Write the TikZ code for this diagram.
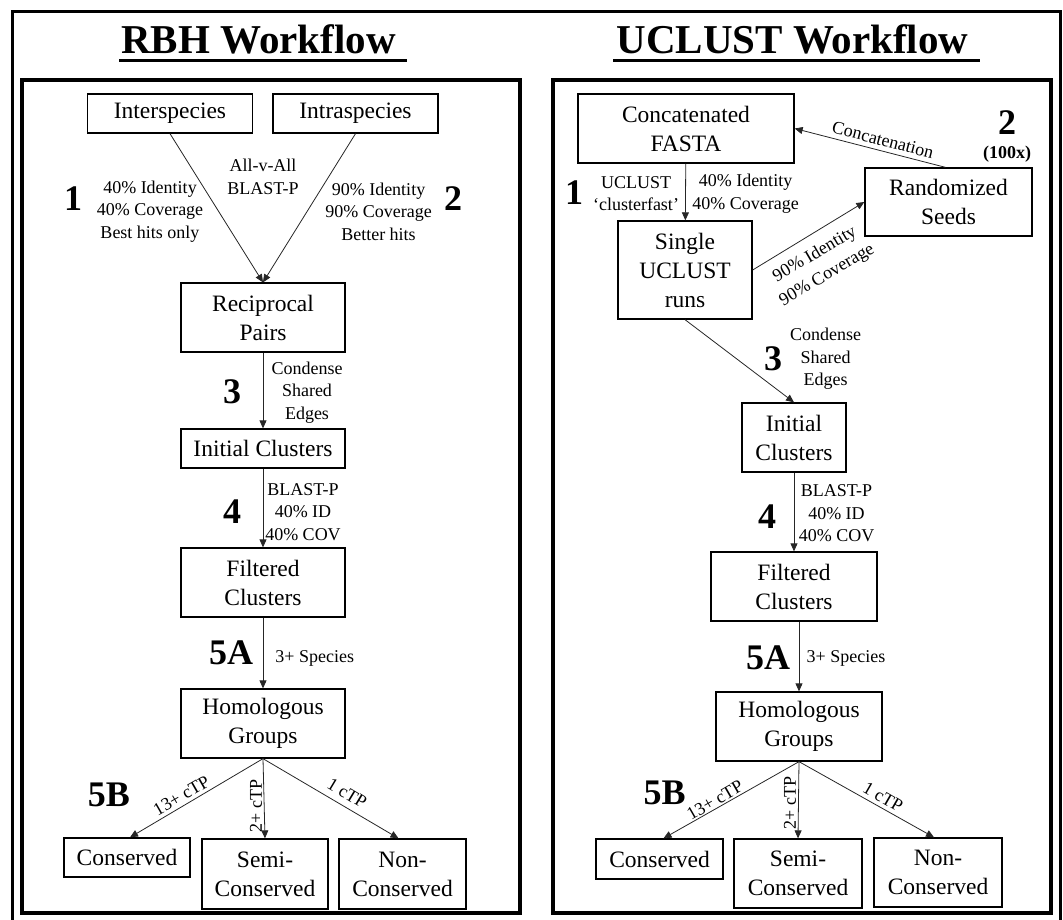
\documentclass[tikz,border=0pt]{standalone}
\usepackage{fontspec}
\setmainfont{Liberation Serif}
\usetikzlibrary{arrows.meta}
\begin{document}
\begin{tikzpicture}[
        x=1pt, y=-1pt,
        >={Triangle[length=8pt,width=7pt]},
        box/.style={draw, line width=1.3pt, inner sep=0pt, align=center,
            font=\fontsize{23.5}{29}\selectfont},
        lbl/.style={inner sep=0pt, align=center, font=\fontsize{18}{22.5}\selectfont},
        stepnum/.style={inner sep=0pt, font=\fontsize{36}{40}\selectfont\bfseries},
        title/.style={inner sep=0pt, anchor=base, font=\fontsize{41}{45}\selectfont\bfseries},
        flow/.style={->, line width=0.8pt, draw=black!85},
        panel/.style={line width=3.5pt},
        ]
        \useasboundingbox (0,0) rectangle (1063,919);
        \draw[line width=3pt] (12,925) -- (12,11) -- (1060,11) -- (1060,925);
        \draw[panel] (22,80) rectangle (520,913);
        \draw[panel] (553,80) rectangle (1051,913);
        \node[title] (titleL) at (258.5,53) {RBH Workflow};
        \node[title] (titleR) at (792.5,53) {UCLUST Workflow};
        \draw[line width=3pt] ([xshift=-2pt,yshift=-7pt]titleL.base west) -- ([xshift=11pt,yshift=-7pt]titleL.base east);
        \draw[line width=3pt] ([xshift=-3pt,yshift=-7pt]titleR.base west) -- ([xshift=11pt,yshift=-7pt]titleR.base east);
        % RBH boxes
        \node[box, minimum width=165pt, minimum height=39pt] (inter) at (170,113.5) {Interspecies};
        \node[box, minimum width=165pt, minimum height=39pt] (intra) at (355.5,113.5) {Intraspecies};
        \node[box, minimum width=164pt, minimum height=69pt] (recipL) at (263,317.5) {Reciprocal\\Pairs};
        \node[box, minimum width=164pt, minimum height=39pt] (initL) at (263,448.5) {Initial Clusters};
        \node[box, minimum width=164pt, minimum height=69pt] (filtL) at (263,582.5) {Filtered\\Clusters};
        \node[box, minimum width=164pt, minimum height=69pt] (homL) at (263,723.5) {Homologous\\Groups};
        \node[box, minimum width=126pt, minimum height=39pt] (consL) at (127,857.5) {Conserved};
        \node[box, minimum width=126pt, minimum height=70pt] (semiL) at (265,874) {Semi-\\Conserved};
        \node[box, minimum width=127pt, minimum height=70pt] (nonL) at (402.5,874) {Non-\\Conserved};
        % UCLUST boxes
        \node[box, minimum width=216pt, minimum height=69pt] (fasta) at (686,128.5) {Concatenated\\FASTA};
        \node[box, minimum width=167pt, minimum height=68pt] (seeds) at (948.5,202) {Randomized\\Seeds};
        \node[box, minimum width=134pt, minimum height=98pt] (single) at (685,270) {Single\\UCLUST\\runs};
        \node[box, minimum width=104pt, minimum height=69pt] (initR) at (794,437.5) {Initial\\Clusters};
        \node[box, minimum width=166pt, minimum height=69pt] (filtR) at (794,586.5) {Filtered\\Clusters};
        \node[box, minimum width=166pt, minimum height=69pt] (homR) at (799,726.5) {Homologous\\Groups};
        \node[box, minimum width=127pt, minimum height=40pt] (consR) at (659.5,859) {Conserved};
        \node[box, minimum width=128pt, minimum height=69pt] (semiR) at (798,873.5) {Semi-\\Conserved};
        \node[box, minimum width=128pt, minimum height=69pt] (nonR) at (938,872.5) {Non-\\Conserved};
        % connectors
        \draw[flow] (inter.south) -- (recipL.north);
        \draw[flow] (intra.south) -- (recipL.north);
        \draw[flow] (recipL) -- (initL);
        \draw[flow] (initL) -- (filtL);
        \draw[flow] (filtL) -- (homL);
        \draw[flow] (homL.south) -- ([xshift=3pt]consL.north);
        \draw[flow] (homL.south) -- (semiL.north);
        \draw[flow] (homL.south) -- ([xshift=-4pt]nonL.north);
        \draw[flow] (fasta) -- (single);
        \draw[flow] ([xshift=-3pt]seeds.north) -- (fasta.east);
        \draw[flow] (single.east) -- (seeds.west);
        \draw[flow] (single.south) -- (initR.north);
        \draw[flow] (initR) -- (filtR);
        \draw[flow] (filtR.south -| homR.north) -- (homR.north);
        \draw[flow] (homR.south) -- ([xshift=4pt]consR.north);
        \draw[flow] (homR.south) -- (semiR.north);
        \draw[flow] (homR.south) -- ([xshift=-4pt]nonR.north);
        % RBH labels
        \node[lbl] (allv) at (263,177) {All-v-All\\BLAST-P};
        \node[stepnum] (s1L) at (73,199) {1};
        \node[lbl] (critA) at (150,211.5) {40\% Identity\\40\% Coverage\\Best hits only};
        \node[lbl] (critB) at (378.5,211.5) {90\% Identity\\90\% Coverage\\Better hits};
        \node[stepnum] (s2L) at (453,199) {2};
        \node[stepnum] (s3L) at (232,392) {3};
        \node[lbl] (condL) at (307,392.5) {Condense\\Shared\\Edges};
        \node[stepnum] (s4L) at (232,512) {4};
        \node[lbl] (blastL) at (303,512) {BLAST-P\\40\% ID\\40\% COV};
        \node[stepnum] (s5aL) at (231,653) {5A};
        \node[lbl] (sppL) at (314.7,658) {3+ Species};
        \node[stepnum] (s5bL) at (109,795) {5B};
        \node[lbl, rotate=30] (c13L) at (181.5,795.5) {13+ cTP};
        \node[lbl, rotate=90] (c2L) at (256,806) {2+ cTP};
        \node[lbl, rotate=-31] (c1L) at (347,793) {1 cTP};
        % UCLUST labels
        \node[stepnum] (s1R) at (574,193) {1};
        \node[lbl] (ucl) at (636,193.5) {UCLUST\\‘clusterfast’};
        \node[lbl] (critC) at (745.5,193.5) {40\% Identity\\40\% Coverage};
        \node[lbl, rotate=-14.5] (concat) at (883,140) {Concatenation};
        \node[stepnum] (s2R) at (1007,123) {2};
        \node[lbl, font=\fontsize{18}{22}\selectfont\bfseries] (rep) at (1007,154) {(100x)};
        \node[lbl, rotate=30.5, font=\fontsize{18}{24}\selectfont] (critD) at (821,265) {90\% Identity\\90\% Coverage};
        \node[stepnum] (s3R) at (773,359) {3};
        \node[lbl] (condR) at (825.5,359) {Condense\\Shared\\Edges};
        \node[stepnum] (s4R) at (767,517) {4};
        \node[lbl] (blastR) at (836.5,513.5) {BLAST-P\\40\% ID\\40\% COV};
        \node[stepnum] (s5aR) at (768,658) {5A};
        \node[lbl] (sppR) at (846,658) {3+ Species};
        \node[stepnum] (s5bR) at (664.5,793) {5B};
        \node[lbl, rotate=30] (c13R) at (715,800) {13+ cTP};
        \node[lbl, rotate=90] (c2R) at (790,803) {2+ cTP};
        \node[lbl, rotate=-30] (c1R) at (883,797) {1 cTP};
\end{tikzpicture}
\end{document}
